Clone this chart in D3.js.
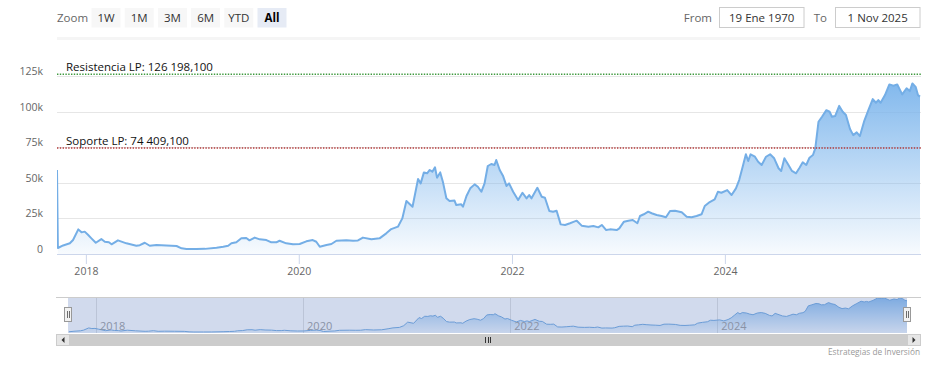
<!DOCTYPE html>
<html><head><meta charset="utf-8">
<script src="https://cdn.jsdelivr.net/npm/d3@7"></script>
<style>
body{margin:0;background:#fff;}
svg{display:block;font-family:"Open Sans",sans-serif;}
</style>
</head><body>
<svg id="chart" width="935" height="366"></svg>
<script>
// ---------- data ----------
const dates = [
"2017-09-24","2017-09-27","2017-10-15","2017-11-07","2017-11-18","2017-12-06","2017-12-17","2017-12-28",
"2018-01-09","2018-01-20","2018-02-04","2018-02-23","2018-03-07","2018-03-21","2018-03-30","2018-04-21",
"2018-05-20","2018-06-23","2018-07-05","2018-07-22","2018-08-08","2018-08-31","2018-10-04","2018-11-08",
"2018-11-25","2018-12-12","2019-01-15","2019-02-13","2019-03-25","2019-04-17","2019-05-04","2019-05-15",
"2019-06-01","2019-06-18","2019-07-05","2019-07-16","2019-08-03","2019-08-20","2019-09-12","2019-09-29",
"2019-10-16","2019-10-27","2019-11-19","2019-12-12","2020-01-04","2020-01-27","2020-02-18","2020-03-01",
"2020-03-13","2020-04-05","2020-04-22","2020-05-09","2020-06-12","2020-07-05","2020-07-22","2020-08-08",
"2020-09-06","2020-10-04","2020-10-27","2020-11-13","2020-12-06","2020-12-21","2021-01-04","2021-01-25",
"2021-02-13","2021-02-22","2021-03-05","2021-03-16","2021-03-25","2021-04-03","2021-04-12","2021-04-19",
"2021-04-30","2021-05-09","2021-05-21","2021-06-01","2021-06-18","2021-06-24","2021-07-11","2021-07-17",
"2021-07-29","2021-08-11","2021-08-26","2021-09-06","2021-09-18","2021-09-29","2021-10-10","2021-10-22",
"2021-11-02","2021-11-08","2021-11-20","2021-12-01","2021-12-13","2021-12-22","2022-01-05","2022-01-22",
"2022-02-06","2022-02-20","2022-03-01","2022-03-09","2022-03-29","2022-04-13","2022-04-24","2022-05-09",
"2022-05-22","2022-06-03","2022-06-17","2022-07-02","2022-07-19","2022-08-02","2022-08-11","2022-08-28",
"2022-09-20","2022-10-07","2022-10-24","2022-11-05","2022-11-20","2022-12-03","2022-12-26","2023-01-04",
"2023-01-20","2023-02-04","2023-02-19","2023-03-07","2023-03-16","2023-03-29","2023-04-13","2023-04-25",
"2023-05-12","2023-05-29","2023-06-13","2023-06-27","2023-07-14","2023-08-06","2023-08-23","2023-09-09",
"2023-09-26","2023-10-13","2023-10-24","2023-11-10","2023-11-27","2023-12-08","2023-12-20","2024-01-09",
"2024-01-24","2024-02-08","2024-02-19","2024-03-02","2024-03-13","2024-03-21","2024-03-29","2024-04-13",
"2024-04-24","2024-05-06","2024-05-21","2024-06-04","2024-06-18","2024-07-03","2024-07-12","2024-07-23",
"2024-08-06","2024-08-18","2024-09-01","2024-09-13","2024-09-24","2024-10-06","2024-10-17","2024-10-29",
"2024-11-06","2024-11-17","2024-11-29","2024-12-14","2024-12-25","2025-01-02","2025-01-13","2025-01-27",
"2025-02-08","2025-02-19","2025-03-05","2025-03-16","2025-03-28","2025-04-08","2025-04-22","2025-05-07",
"2025-05-22","2025-06-02","2025-06-10","2025-06-18","2025-07-03","2025-07-18","2025-08-01","2025-08-14",
"2025-08-31","2025-09-15","2025-09-26","2025-10-05","2025-10-16","2025-10-24","2025-10-31"
];
const prices = [
59000,4200,6000,7500,9800,17300,15200,15700,
13300,11000,7900,10500,8600,8200,6800,9600,
7500,5800,6200,7900,5800,6300,6000,5600,
4000,3500,3500,3600,4400,5100,5800,7500,
8200,11000,11200,9600,11500,10300,9800,8200,
8200,9300,7500,6800,7000,8900,9800,8600,
5100,6300,7000,9300,9600,9300,9500,11500,
10300,11000,14500,17500,19200,25000,37200,33200,
52700,49600,57300,56700,59000,57800,60900,53600,
57300,50800,39100,37200,37500,34400,34900,33200,
40700,46100,48900,47200,43700,49600,61800,63200,
62500,66000,59000,55000,47800,49600,43700,37900,
43000,39100,41400,39100,46500,40200,39500,30200,
29700,30400,20800,20400,21600,22700,23400,19900,
19200,19700,18700,20400,16800,17300,16800,18000,
22700,23400,23900,21600,26700,27900,29700,28600,
27400,26700,25800,30200,30400,29300,26200,25800,
26700,27900,33700,36500,38400,43700,43000,44900,
41400,46100,51900,61300,70000,65300,70000,68300,
64800,62500,68300,70000,67200,60200,58300,67200,
62500,58300,56700,60600,64400,62500,67600,69500,
74200,92900,96400,101000,99900,96400,96900,104000,
99900,97600,87800,83500,85400,82800,92900,101000,
108800,106200,108100,106200,111600,119100,118200,119100,
112100,116300,114400,119800,117400,111600,110500
];
const yTicks = [0, 25000, 50000, 75000, 100000, 125000];
const yTickLabels = ["0", "25k", "50k", "75k", "100k", "125k"];
const xTickYears = [2018, 2020, 2022, 2024];
const zoomButtons = ["1W", "1M", "3M", "6M", "YTD", "All"];
const selectedButton = "All";
const fromLabel = "19 Ene 1970";
const toLabel = "1 Nov 2025";
const plotLineValues = [126198.1, 74409.1];
const plotLineLabels = ["Resistencia LP: 126 198,100", "Soporte LP: 74 409,100"];
const plotLineColors = ["#3f9a3f", "#b23a3a"];
const creditText = "Estrategias de Inversión";

// ---------- setup ----------
const parse = d3.timeParse("%Y-%m-%d");
const data = dates.map((d, i) => ({ date: parse(d), value: prices[i] }));
const svg = d3.select("#chart");
const defs = svg.append("defs");

const plot = { left: 57, right: 920, top: 58.2, bottom: 254 };
const x = d3.scaleTime().domain(d3.extent(data, d => d.date)).range([plot.left, plot.right]);
const y = d3.scaleLinear().domain([0, 137500]).range([plot.bottom, plot.top]);

// ---------- range selector ----------
const rs = svg.append("g");
rs.append("text").attr("x", 57).attr("y", 21.5).attr("font-size", 11.5).attr("fill", "#666").text("Zoom");
zoomButtons.forEach((b, i) => {
  const bx = 91.5 + i * 33.2;
  const sel = b === selectedButton;
  rs.append("rect").attr("x", bx).attr("y", 8).attr("width", 29).attr("height", 19.5)
    .attr("fill", sel ? "#e6ebf5" : "#f7f7f7");
  rs.append("text").attr("x", bx + 14.5).attr("y", 21.5).attr("text-anchor", "middle")
    .attr("font-size", 11.5).attr("font-weight", sel ? "bold" : "normal")
    .attr("fill", sel ? "#000" : "#333").text(b);
});
rs.append("text").attr("x", 712).attr("y", 21.5).attr("text-anchor", "end").attr("font-size", 11.5).attr("fill", "#666").text("From");
rs.append("rect").attr("x", 719.5).attr("y", 7.5).attr("width", 84.5).attr("height", 20).attr("fill", "#fff").attr("stroke", "#cccccc");
rs.append("text").attr("x", 761.7).attr("y", 21.5).attr("text-anchor", "middle").attr("font-size", 11.5).attr("fill", "#333").text(fromLabel);
rs.append("text").attr("x", 827).attr("y", 21.5).attr("text-anchor", "end").attr("font-size", 11.5).attr("fill", "#666").text("To");
rs.append("rect").attr("x", 835.5).attr("y", 7.5).attr("width", 84.5).attr("height", 20).attr("fill", "#fff").attr("stroke", "#cccccc");
rs.append("text").attr("x", 877.7).attr("y", 21.5).attr("text-anchor", "middle").attr("font-size", 11.5).attr("fill", "#333").text(toLabel);
svg.append("rect").attr("x", 57).attr("y", 37).attr("width", 863).attr("height", 3).attr("fill", "#f5f5f5");

// ---------- grid & axes ----------
svg.append("g").selectAll("line").data(yTicks.filter(t => t > 0)).join("line")
  .attr("x1", plot.left).attr("x2", plot.right + 1)
  .attr("y1", d => Math.round(y(d)) + 0.5).attr("y2", d => Math.round(y(d)) + 0.5)
  .attr("stroke", "#e6e6e6").attr("stroke-width", 1);

const yAxis = d3.axisLeft(y).tickValues(yTicks).tickSize(0).tickPadding(0)
  .tickFormat((d, i) => yTickLabels[i]);
const yg = svg.append("g").attr("transform", "translate(43,0)").call(yAxis);
yg.select(".domain").remove();
yg.selectAll("text").attr("font-family", "Open Sans, sans-serif").attr("font-size", 10.5)
  .attr("fill", "#666").attr("dy", null).attr("dominant-baseline", "auto")
  .attr("y", -1.5).attr("x", 0);

const xTickDates = xTickYears.map(yr => new Date(yr, 0, 1));
const xAxis = d3.axisBottom(x).tickValues(xTickDates).tickSize(10).tickPadding(4)
  .tickFormat(d3.timeFormat("%Y"));
const xg = svg.append("g").attr("transform", `translate(0,${plot.bottom})`).call(xAxis);
xg.select(".domain").remove();
xg.selectAll("line").attr("stroke", "#ccd6eb");
xg.selectAll("text").attr("font-family", "Open Sans, sans-serif").attr("font-size", 10.5).attr("fill", "#666");

// ---------- series ----------
const grad = defs.append("linearGradient").attr("id", "areaGrad")
  .attr("x1", 0).attr("y1", 0).attr("x2", 0).attr("y2", 1);
grad.append("stop").attr("offset", 0).attr("stop-color", "#7cb5ec").attr("stop-opacity", 0.95);
grad.append("stop").attr("offset", 1).attr("stop-color", "#7cb5ec").attr("stop-opacity", 0.06);

defs.append("clipPath").attr("id", "plotClip").append("rect")
  .attr("x", plot.left).attr("y", plot.top - 10).attr("width", plot.right - plot.left + 1).attr("height", plot.bottom - plot.top + 10);

const area = d3.area().x(d => x(d.date)).y0(plot.bottom).y1(d => y(d.value));
const line = d3.line().x(d => x(d.date)).y(d => y(d.value));
const sg = svg.append("g").attr("clip-path", "url(#plotClip)");
sg.append("path").datum(data.slice(1)).attr("d", area).attr("fill", "url(#areaGrad)");
sg.append("path").datum(data).attr("d", line).attr("fill", "none")
  .attr("stroke", "#74aee6").attr("stroke-width", 2).attr("stroke-linejoin", "round");

// axis line
svg.append("line").attr("x1", plot.left).attr("x2", plot.right + 1)
  .attr("y1", plot.bottom + 0.5).attr("y2", plot.bottom + 0.5).attr("stroke", "#ccd6eb");

// ---------- plot lines ----------
plotLineValues.forEach((v, i) => {
  const py = y(v);
  svg.append("line").attr("x1", plot.left).attr("x2", plot.right + 1)
    .attr("y1", py).attr("y2", py).attr("stroke", plotLineColors[i])
    .attr("stroke-width", 1.4).attr("stroke-dasharray", "1.4,1.4");
  svg.append("text").attr("x", 66).attr("y", py - 3.5).attr("font-size", 11.5)
    .attr("fill", "#111").text(plotLineLabels[i]);
});

// ---------- navigator ----------
const nav = { left: 68, right: 907, top: 297, bottom: 333 };
const navData = data.slice(1);
const nx = d3.scaleTime().domain(x.domain()).range([nav.left, nav.right]);
const ny = d3.scaleLinear().domain([0, d3.max(navData, d => d.value)]).range([nav.bottom, nav.top + 1]);
const ng = svg.append("g");
ng.selectAll(".ngrid").data(xTickDates).join("line")
  .attr("x1", d => Math.round(nx(d)) + 0.5).attr("x2", d => Math.round(nx(d)) + 0.5)
  .attr("y1", nav.top).attr("y2", nav.bottom).attr("stroke", "#e0e0e0");
const navGrad = defs.append("linearGradient").attr("id", "navGrad")
  .attr("x1", 0).attr("y1", 0).attr("x2", 0).attr("y2", 1);
navGrad.append("stop").attr("offset", 0).attr("stop-color", "#7cb5ec").attr("stop-opacity", 0.9);
navGrad.append("stop").attr("offset", 1).attr("stop-color", "#7cb5ec").attr("stop-opacity", 0.1);
ng.append("path").datum(navData)
  .attr("d", d3.area().x(d => nx(d.date)).y0(nav.bottom).y1(d => ny(d.value)))
  .attr("fill", "url(#navGrad)");
ng.append("path").datum(navData)
  .attr("d", d3.line().x(d => nx(d.date)).y(d => ny(d.value)))
  .attr("fill", "none").attr("stroke", "#6ea7df").attr("stroke-width", 1);
ng.selectAll(".nlab").data(xTickDates).join("text")
  .attr("x", d => nx(d) + 4).attr("y", 329.5).attr("font-size", 11).attr("fill", "#999")
  .text(d => d3.timeFormat("%Y")(d));
// mask + outline
ng.append("rect").attr("x", nav.left).attr("y", nav.top).attr("width", nav.right - nav.left)
  .attr("height", nav.bottom - nav.top).attr("fill", "rgba(102,133,194,0.3)");
ng.append("line").attr("x1", 56).attr("x2", 921).attr("y1", nav.top + 0.5).attr("y2", nav.top + 0.5).attr("stroke", "#cccccc");
[nav.left, nav.right].forEach(hx => {
  ng.append("rect").attr("x", hx - 3.5).attr("y", 307.5).attr("width", 7).attr("height", 14)
    .attr("fill", "#f2f2f2").attr("stroke", "#999").attr("stroke-width", 1);
  ng.append("line").attr("x1", hx - 0.5).attr("x2", hx - 0.5).attr("y1", 311).attr("y2", 318).attr("stroke", "#333").attr("stroke-width", 0.7);
  ng.append("line").attr("x1", hx + 1.5).attr("x2", hx + 1.5).attr("y1", 311).attr("y2", 318).attr("stroke", "#333").attr("stroke-width", 0.7);
});

// ---------- scrollbar ----------
const sb = { top: 334, h: 12 };
svg.append("rect").attr("x", 56).attr("y", sb.top).attr("width", 865).attr("height", sb.h).attr("fill", "#f2f2f2");
svg.append("rect").attr("x", nav.left).attr("y", sb.top).attr("width", nav.right - nav.left).attr("height", sb.h).attr("fill", "#cccccc");
[[56, -1], [907, 1]].forEach(([bx, dir]) => {
  svg.append("rect").attr("x", bx + 0.5).attr("y", sb.top + 0.5).attr("width", 13).attr("height", sb.h - 1)
    .attr("fill", "#e6e6e6").attr("stroke", "#cccccc");
  const cx = bx + 7, cy = sb.top + sb.h / 2;
  svg.append("path").attr("d", dir < 0
      ? `M${cx + 1.5},${cy - 3}L${cx - 1.5},${cy}L${cx + 1.5},${cy + 3}Z`
      : `M${cx - 1.5},${cy - 3}L${cx + 1.5},${cy}L${cx - 1.5},${cy + 3}Z`).attr("fill", "#333");
});
const mid = (nav.left + nav.right) / 2;
[-2.5, 0, 2.5].forEach(o => {
  svg.append("line").attr("x1", Math.round(mid + o) + 0.5).attr("x2", Math.round(mid + o) + 0.5)
    .attr("y1", sb.top + 3).attr("y2", sb.top + 9).attr("stroke", "#333").attr("stroke-width", 1);
});

// ---------- credits ----------
svg.append("text").attr("x", 920).attr("y", 355).attr("text-anchor", "end")
  .attr("font-size", 8.5).attr("fill", "#999").attr("textLength", 92).attr("lengthAdjust", "spacingAndGlyphs")
  .text(creditText);
</script>
</body></html>
